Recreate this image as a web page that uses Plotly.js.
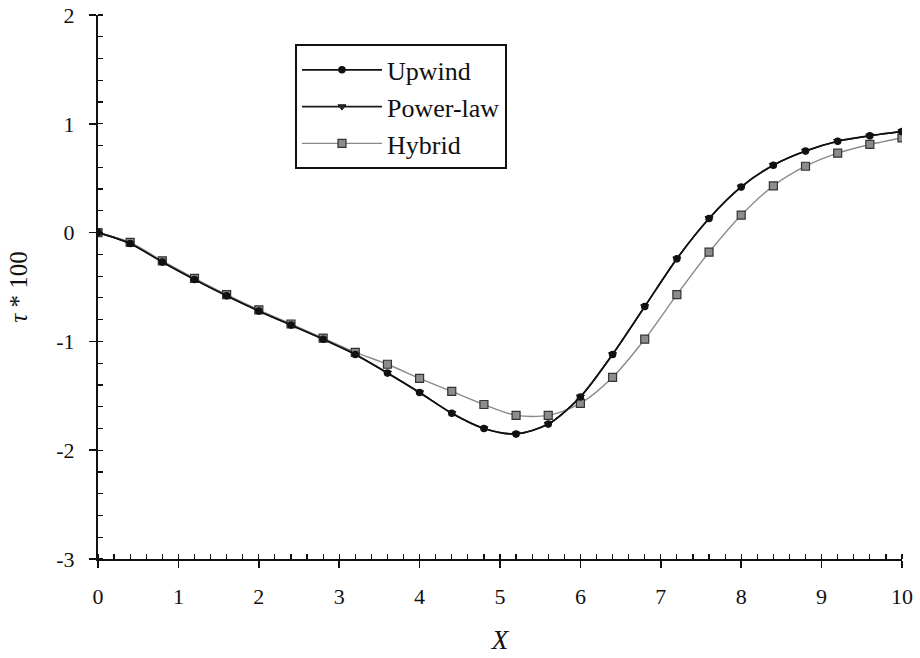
<!DOCTYPE html>
<html>
<head>
<meta charset="utf-8">
<script src="https://cdn.plot.ly/plotly-3.0.1.min.js"></script>
<style>
  html, body { margin: 0; padding: 0; background: #ffffff; }
  #chart { width: 920px; height: 658px; }
</style>
</head>
<body>
<div id="chart"></div>
<script>
// Streamwise positions of the sampled points
const xValues = [0, 0.4, 0.8, 1.2, 1.6, 2.0, 2.4, 2.8, 3.2, 3.6, 4.0, 4.4, 4.8,
                 5.2, 5.6, 6.0, 6.4, 6.8, 7.2, 7.6, 8.0, 8.4, 8.8, 9.2, 9.6, 10];

// tau * 100 for each differencing scheme
const upwind = [0, -0.10, -0.27, -0.43, -0.58, -0.72, -0.85, -0.98, -1.12, -1.29, -1.47, -1.66, -1.80,
                -1.85, -1.76, -1.51, -1.12, -0.68, -0.24, 0.13, 0.42, 0.62, 0.75, 0.84, 0.89, 0.93];
const powerLaw = [0, -0.10, -0.27, -0.43, -0.58, -0.72, -0.85, -0.98, -1.12, -1.29, -1.47, -1.66, -1.80,
                  -1.85, -1.76, -1.51, -1.12, -0.68, -0.24, 0.13, 0.42, 0.62, 0.75, 0.84, 0.89, 0.93];
const hybrid = [0, -0.09, -0.26, -0.42, -0.57, -0.71, -0.84, -0.97, -1.10, -1.21, -1.34, -1.46, -1.58,
                -1.68, -1.68, -1.57, -1.33, -0.98, -0.57, -0.18, 0.16, 0.43, 0.61, 0.73, 0.81, 0.87];

const seriesNames = ['Upwind', 'Power-law', 'Hybrid'];
const xTickVals = [0, 1, 2, 3, 4, 5, 6, 7, 8, 9, 10];
const yTickVals = [-3, -2, -1, 0, 1, 2];

const serif = 'Liberation Serif';

const traces = [
  {
    // drawn first so the circles sit on top of it
    x: xValues, y: powerLaw, name: seriesNames[1], legendrank: 2,
    mode: 'lines+markers',
    line: { color: '#1a1a1a', width: 1.6, shape: 'spline', smoothing: 0.8 },
    marker: { symbol: 'triangle-down', size: 7, color: '#2a2a2a', line: { color: '#111', width: 1 } }
  },
  {
    x: xValues, y: hybrid, name: seriesNames[2], legendrank: 3,
    mode: 'lines+markers',
    line: { color: '#8a8a8a', width: 1.4, shape: 'spline', smoothing: 0.8 },
    marker: { symbol: 'square', size: 8, color: '#8c8c8c', line: { color: '#333', width: 1.2 } }
  },
  {
    x: xValues, y: upwind, name: seriesNames[0], legendrank: 1,
    mode: 'lines+markers',
    line: { color: '#111111', width: 1.7, shape: 'spline', smoothing: 0.8 },
    marker: { symbol: 'circle', size: 7.5, color: '#111111' }
  }
];

const axisFont = { family: serif, size: 22, color: '#111' };

const layout = {
  width: 920, height: 658,
  paper_bgcolor: '#ffffff', plot_bgcolor: '#ffffff',
  font: { family: serif, color: '#111' },
  margin: { l: 98, r: 18, t: 15, b: 99 },
  showlegend: true,
  legend: {
    x: 0.245, y: 0.946, xanchor: 'left', yanchor: 'top',
    bgcolor: '#ffffff', bordercolor: '#111', borderwidth: 2,
    font: { family: serif, size: 26, color: '#111' },
    tracegroupgap: 0, itemwidth: 80
  },
  xaxis: {
    range: [0, 10], tickvals: xTickVals, ticktext: xTickVals.map(String),
    ticks: 'outside', ticklen: 7, tickwidth: 1.5, tickcolor: '#111',
    ticklabelstandoff: 10,
    minor: { dtick: 0.2, tick0: 0, ticks: 'inside', ticklen: 5, tickwidth: 1.2, tickcolor: '#111', showgrid: false },
    showline: true, linecolor: '#111', linewidth: 2,
    showgrid: false, zeroline: false,
    tickfont: axisFont,
    title: { text: '<i>X</i>', font: { family: serif, size: 27, color: '#111' }, standoff: 22 }
  },
  yaxis: {
    range: [-3, 2], tickvals: yTickVals, ticktext: yTickVals.map(String),
    ticks: 'outside', ticklen: 7, tickwidth: 1.5, tickcolor: '#111',
    ticklabelstandoff: 10,
    minor: { dtick: 0.2, tick0: 0, ticks: 'inside', ticklen: 5, tickwidth: 1.2, tickcolor: '#111', showgrid: false },
    showline: true, linecolor: '#111', linewidth: 2,
    showgrid: false, zeroline: false,
    tickfont: axisFont,
    title: { text: '<i>τ</i> * 100', font: { family: serif, size: 25, color: '#111' }, standoff: 22 }
  },
  // frame axes on top and right carrying inward ticks
  xaxis2: {
    overlaying: 'x', side: 'top', range: [0, 10],
    tick0: 0, dtick: 0.2, ticks: 'inside', ticklen: 5, tickwidth: 1.2, tickcolor: '#111',
    showticklabels: false, showline: true, linecolor: '#111', linewidth: 2,
    showgrid: false, zeroline: false
  },
  yaxis2: {
    overlaying: 'y', side: 'right', range: [-3, 2],
    tick0: 0, dtick: 0.2, ticks: 'inside', ticklen: 5, tickwidth: 1.2, tickcolor: '#111',
    showticklabels: false, showline: true, linecolor: '#111', linewidth: 2,
    showgrid: false, zeroline: false
  }
};

Plotly.newPlot('chart', traces, layout, { displayModeBar: false, staticPlot: true });
</script>
</body>
</html>
